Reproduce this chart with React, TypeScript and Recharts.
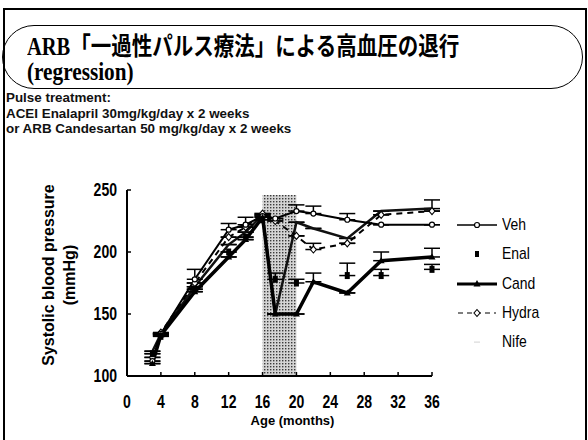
import { LineChart, Line, XAxis, YAxis, ReferenceArea, ErrorBar } from "recharts";

const months = [3, 4, 8, 12, 14, 16, 17.5, 20, 22, 26, 30, 36];
const vehValues = [112, 134, 178, 218, 222, 229, 227, 233, 231, 226, 222, 222];
const enalValues = [118, 132, 170, 200, 212, 226, 178, 175, null, 181, 181, 186];
const candValues = [110, 133, 168, 196, 210, 228, 150, 150, 176, 167, 193, 196];
const hydraValues = [115, 135, 175, 212, 220, 231, 225, 213, 202, 207, 230, 233];
const nifeValues = [120, 134, 172, 206, 216, 230, 150, 224, 219, 211, 233, 235];

// upper error only
const vehErr = [0, 0, 8, 5, 6, 0, 0, 5, 6, 5, 0, 0];
const enalErr = [0, 0, 0, 0, 0, 0, 5, 3, 0, 10, 5, 4];
const candErr = [0, 0, 0, 0, 0, 0, 0, 0, 7, 0, 7, 7];
const hydraErr = [0, 0, 0, 0, 0, 0, 0, 0, 5, 0, 0, 0];
const nifeErr = [0, 0, 0, 0, 0, 0, 0, 0, 0, 0, 0, 7];

const xTicks = [0, 4, 8, 12, 16, 20, 24, 28, 32, 36];
const yTicks = [100, 150, 200, 250];
const pulseWindow = [16, 20];
const legendNames = ["Veh", "Enal", "Cand", "Hydra", "Nife"];

const data = months.map((m, i) => ({
  month: m,
  veh: vehValues[i],
  enal: enalValues[i],
  cand: candValues[i],
  hydra: hydraValues[i],
  nife: nifeValues[i],
  vehErr: [0, vehErr[i]],
  enalErr: [0, enalErr[i]],
  candErr: [0, candErr[i]],
  hydraErr: [0, hydraErr[i]],
  nifeErr: [0, nifeErr[i]],
}));

const SANS = "'Liberation Sans', Arial, sans-serif";

// the scan is squeezed sideways, so numbers look like a narrow bold face
const XTick = (p: any) => (
  <text
    transform={`translate(${p.x},${p.y}) scale(0.78,1)`}
    textAnchor="middle"
    dy="0.8em"
    fill="#000"
    fontFamily={SANS}
    fontWeight={700}
    fontSize={18}
  >
    {p.payload.value}
  </text>
);
const YTick = (p: any) => (
  <text
    transform={`translate(${p.x},${p.y}) scale(0.78,1)`}
    textAnchor="end"
    dy="0.36em"
    fill="#000"
    fontFamily={SANS}
    fontWeight={700}
    fontSize={18}
  >
    {p.payload.value}
  </text>
);

const OpenCircle = (p: any) =>
  p.cx == null ? null : <circle cx={p.cx} cy={p.cy} r={2.5} fill="#fff" stroke="#000" strokeWidth={1.2} />;
const OpenDiamond = (p: any) =>
  p.cx == null || p.value == null ? null : (
    <path d={`M${p.cx},${p.cy - 3.5}L${p.cx + 3},${p.cy}L${p.cx},${p.cy + 3.5}L${p.cx - 3},${p.cy}Z`} fill="#fff" stroke="#000" strokeWidth={1.1} />
  );
const Square = (p: any) =>
  p.cx == null || p.value == null ? null : <rect x={p.cx - 2.5} y={p.cy - 3.5} width={5} height={7} fill="#000" />;
const SmallTri = (p: any) =>
  p.cx == null ? null : (
    <path d={`M${p.cx},${p.cy - 3.5}L${p.cx + 3.5},${p.cy + 2.5}L${p.cx - 3.5},${p.cy + 2.5}Z`} fill="#000" />
  );

function LegendIcon({ name }: { name: string }) {
  return (
    <svg width={42} height={12} style={{ display: "block" }}>
      {name === "Veh" && (
        <>
          <line x1={1} y1={6} x2={41} y2={6} stroke="#000" strokeWidth={1.5} />
          <circle cx={21} cy={6} r={2.5} fill="#fff" stroke="#000" strokeWidth={1.2} />
        </>
      )}
      {name === "Enal" && <rect x={19} y={3} width={4} height={6} fill="#000" />}
      {name === "Cand" && (
        <>
          <line x1={1} y1={6} x2={41} y2={6} stroke="#000" strokeWidth={3.2} />
          <path d="M21,2L24.5,8.5L17.5,8.5Z" fill="#000" />
        </>
      )}
      {name === "Hydra" && (
        <>
          <line x1={2} y1={6} x2={40} y2={6} stroke="#000" strokeWidth={1.2} strokeDasharray="5 4" />
          <path d="M21,2.5L24,6L21,9.5L18,6Z" fill="#fff" stroke="#000" strokeWidth={1.1} />
        </>
      )}
      {name === "Nife" && (
        <>
          <circle cx={19} cy={6} r={0.6} fill="#999" />
          <circle cx={21} cy={6} r={0.6} fill="#999" />
          <circle cx={23} cy={6} r={0.6} fill="#999" />
        </>
      )}
    </svg>
  );
}

export default function App() {
  return (
    <div
      style={{
        position: "fixed",
        left: 0,
        top: 0,
        width: 588,
        height: 440,
        background: "#fff",
        overflow: "hidden",
      }}
    >
      {/* frame */}
      <div
        style={{
          position: "absolute",
          left: 3,
          top: 8,
          width: 580,
          height: 440,
          borderTop: "2px solid #000",
          borderLeft: "2px solid #000",
          borderRight: "2px solid #000",
        }}
      />
      {/* title banner */}
      <div
        style={{
          position: "absolute",
          left: 2,
          top: 25,
          width: 579,
          height: 62,
          border: "1.5px solid #000",
          borderRadius: 32,
        }}
      />
      <div
        style={{
          position: "absolute",
          left: 27,
          top: 26,
          fontFamily: "'Liberation Serif', 'Noto Sans CJK JP', serif",
          fontWeight: 700,
          fontSize: 25,
          whiteSpace: "nowrap",
          transform: "scaleX(0.82)",
          transformOrigin: "left top",
          color: "#000",
        }}
      >
        ARB「一過性パルス療法」による高血圧の退行
      </div>
      <div
        style={{
          position: "absolute",
          left: 27,
          top: 58,
          fontFamily: "'Liberation Serif', serif",
          fontWeight: 700,
          fontSize: 25,
          whiteSpace: "nowrap",
          transform: "scaleX(0.85)",
          transformOrigin: "left top",
          color: "#000",
        }}
      >
        (regression)
      </div>
      {/* treatment note */}
      <div
        style={{
          position: "absolute",
          left: 6,
          top: 90,
          fontFamily: SANS,
          fontWeight: 700,
          fontSize: 13,
          lineHeight: "15.5px",
          color: "#111",
          whiteSpace: "nowrap",
          transform: "scaleX(1.03)",
          transformOrigin: "left top",
        }}
      >
        <div>Pulse treatment:</div>
        <div>ACEI Enalapril 30mg/kg/day x 2 weeks</div>
        <div>or ARB Candesartan 50 mg/kg/day x 2 weeks</div>
      </div>
      {/* y axis title */}
      <div style={{ position: "absolute", left: 59, top: 275, width: 0, height: 0 }}>
        <div
          style={{
            position: "absolute",
            transform: "translate(-50%, -50%) rotate(-90deg)",
            fontFamily: SANS,
            fontWeight: 700,
            fontSize: 16,
            lineHeight: "21px",
            textAlign: "center",
            whiteSpace: "nowrap",
            color: "#000",
          }}
        >
          <div>Systolic blood pressure</div>
          <div>(mmHg)</div>
        </div>
      </div>
      <LineChart
        width={588}
        height={440}
        data={data}
        style={{ position: "absolute", left: 0, top: 0 }}
        margin={{ top: 190, right: 156, bottom: 24, left: 67 }}
      >
        <defs>
          <pattern id="dots" width={3} height={3} patternUnits="userSpaceOnUse">
            <rect width={3} height={3} fill="#d4d4d4" />
            <rect x={0} y={0} width={1.4} height={1.4} fill="#3a3a3a" />
          </pattern>
        </defs>
        <XAxis
          dataKey="month"
          type="number"
          domain={[0, 36]}
          ticks={xTicks}
          height={40}
          axisLine={{ stroke: "#000", strokeWidth: 2 }}
          tickLine={{ stroke: "#000", strokeWidth: 1.5 }}
          tickSize={-4}
          tickMargin={22}
          tick={<XTick />}
          label={{
            value: "Age (months)",
            position: "insideBottom",
            offset: -9,
            dx: 13,
            fill: "#000",
            fontFamily: SANS,
            fontWeight: 700,
            fontSize: 13,
          }}
        />
        <YAxis
          type="number"
          domain={[100, 250]}
          ticks={yTicks}
          width={60}
          axisLine={{ stroke: "#000", strokeWidth: 2 }}
          tickLine={{ stroke: "#000", strokeWidth: 1.5 }}
          tickSize={-4}
          tickMargin={14}
          tick={<YTick />}
        />
        <ReferenceArea
          x1={pulseWindow[0]}
          x2={pulseWindow[1]}
          y1={100}
          y2={246}
          fill="url(#dots)"
          fillOpacity={1}
          stroke="none"
        />
        <Line dataKey="nife" stroke="#111" strokeWidth={2.5} dot={false} isAnimationActive={false}>
          <ErrorBar dataKey="nifeErr" direction="y" width={8} stroke="#000" strokeWidth={1.5} />
        </Line>
        <Line
          dataKey="hydra"
          stroke="#000"
          strokeWidth={2}
          strokeDasharray="6 5"
          dot={<OpenDiamond />}
          isAnimationActive={false}
        >
          <ErrorBar dataKey="hydraErr" direction="y" width={8} stroke="#000" strokeWidth={1.5} />
        </Line>
        <Line dataKey="veh" stroke="#000" strokeWidth={2} dot={<OpenCircle />} isAnimationActive={false}>
          <ErrorBar dataKey="vehErr" direction="y" width={8} stroke="#000" strokeWidth={1.5} />
        </Line>
        <Line dataKey="cand" stroke="#000" strokeWidth={3.5} dot={<SmallTri />} isAnimationActive={false}>
          <ErrorBar dataKey="candErr" direction="y" width={8} stroke="#000" strokeWidth={1.5} />
        </Line>
        <Line dataKey="enal" stroke="none" strokeWidth={0} dot={<Square />} isAnimationActive={false}>
          <ErrorBar dataKey="enalErr" direction="y" width={8} stroke="#000" strokeWidth={1.5} />
        </Line>
      </LineChart>
      {/* legend */}
      {legendNames.map((name, i) => (
        <div
          key={name}
          style={{
            position: "absolute",
            left: 456,
            top: 216 + i * 29.3,
            display: "flex",
            alignItems: "center",
            gap: 4,
            height: 18,
          }}
        >
          <LegendIcon name={name} />
          <span
            style={{
              fontFamily: SANS,
              fontSize: 17,
              color: "#000",
              lineHeight: "18px",
              display: "inline-block",
              transform: "scaleX(0.82)",
              transformOrigin: "left center",
            }}
          >
            {name}
          </span>
        </div>
      ))}
    </div>
  );
}
